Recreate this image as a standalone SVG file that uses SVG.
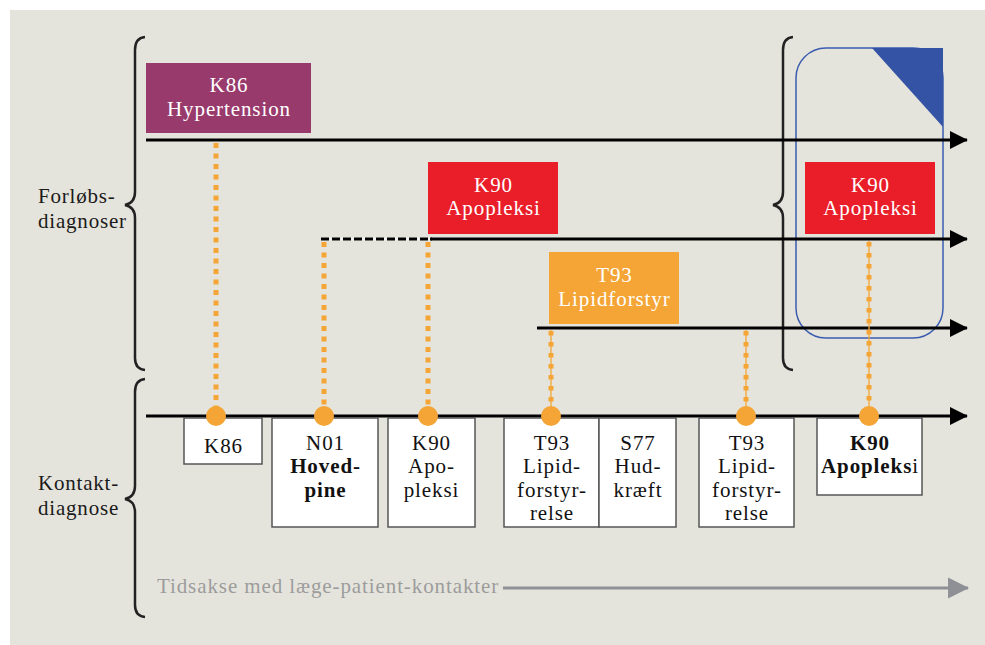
<svg xmlns="http://www.w3.org/2000/svg" width="985" height="645" viewBox="0 0 985 645">
<defs>
<style>
.lbl{font-family:"Liberation Serif","DejaVu Serif",serif;font-size:21px;letter-spacing:0.8px;fill:#1a1a1a}
.wt{font-family:"Liberation Serif","DejaVu Serif",serif;font-size:21px;letter-spacing:0.9px;fill:#ffffff;text-anchor:middle}
.bt{font-family:"Liberation Serif","DejaVu Serif",serif;font-size:21px;letter-spacing:0.9px;fill:#111;text-anchor:middle}
.b{font-weight:bold}
.brace{fill:none;stroke:#222;stroke-width:2.5}
.axis{stroke:#000;stroke-width:3;fill:none}
.dot{stroke:#F4A535;stroke-width:5;stroke-dasharray:5 5.5;fill:none}
.thin{stroke:#F4A535;stroke-width:1.3;fill:none}
.sq{stroke:#F4A535;stroke-width:5;stroke-dasharray:4.5 6.5;fill:none}
.box{fill:#fff;stroke:#555;stroke-width:1.5}
.circ{fill:#F4A535}
</style>
<marker id="ah" viewBox="0 0 10 10" refX="9.5" refY="5" markerWidth="6" markerHeight="6" orient="auto" markerUnits="strokeWidth">
<path d="M0,0 L10,5 L0,10 Z" fill="#000"/>
</marker>
<marker id="ahg" viewBox="0 0 10 10" refX="9.5" refY="5" markerWidth="7" markerHeight="8" orient="auto" markerUnits="strokeWidth">
<path d="M0,0 L10,5 L0,10 Z" fill="#8E9096"/>
</marker>
</defs>
<rect x="10" y="10" width="975" height="635" fill="#E5E4DC"/>

<g id="braces">
<path class="brace" d="M145,37 Q135,38 135,50 L135,192 Q135,203 125,205 Q135,207 135,218 L135,358 Q135,369 145,370"/>
<path class="brace" d="M145,379 Q135,380 135,392 L135,486 Q135,497 125,499 Q135,501 135,512 L135,605 Q135,616 145,617"/>
<path class="brace" d="M793,37 Q783,38 783,50 L783,192 Q783,203 773,205 Q783,207 783,218 L783,358 Q783,369 793,370"/>
</g>

<g id="side-labels">
<text class="lbl" x="38" y="203">Forløbs-</text>
<text class="lbl" x="38" y="228">diagnoser</text>
<text class="lbl" x="38" y="490">Kontakt-</text>
<text class="lbl" x="38" y="515">diagnose</text>
</g>

<g id="highlight">
<rect x="796" y="48" width="147" height="290" rx="30" ry="30" fill="none" stroke="#3A5CB0" stroke-width="1.5"/>
<path d="M872,48 L943,48 L943,127 Z" fill="#3553A5"/>
</g>

<g id="connectors">
<line class="axis" x1="146" y1="140" x2="967" y2="140" marker-end="url(#ah)"/>
<line x1="321" y1="239" x2="432" y2="239" stroke="#f4f4f0" stroke-width="3"/>
<line x1="321" y1="239" x2="432" y2="239" stroke="#000" stroke-width="3" stroke-dasharray="8 3"/>
<line class="axis" x1="430" y1="239" x2="967" y2="239" marker-end="url(#ah)"/>
<line class="axis" x1="537" y1="328" x2="967" y2="328" marker-end="url(#ah)"/>
<line class="axis" x1="146" y1="416" x2="967" y2="416" marker-end="url(#ah)"/>
<line x1="503" y1="588" x2="968" y2="588" stroke="#8E9096" stroke-width="3" marker-end="url(#ahg)"/>
<line class="dot" x1="216" y1="143" x2="216" y2="410"/>
<line class="dot" x1="324" y1="242" x2="324" y2="410"/>
<line class="dot" x1="428" y1="242" x2="428" y2="410"/>
<line class="thin" x1="551" y1="330" x2="551" y2="410"/>
<line class="sq" x1="551" y1="331" x2="551" y2="410"/>
<line class="thin" x1="746" y1="330" x2="746" y2="410"/>
<line class="sq" x1="746" y1="331" x2="746" y2="410"/>
<line class="thin" x1="869" y1="241" x2="869" y2="410"/>
<line class="sq" x1="869" y1="242" x2="869" y2="410"/>
</g>

<g id="k86-hypertension">
<rect x="146" y="63" width="165" height="70" fill="#983A6C"/>
<text class="wt" x="229" y="92">K86</text>
<text class="wt" x="229" y="116">Hypertension</text>
</g>
<g id="k90-apopleksi-1">
<rect x="428" y="162" width="130" height="72" fill="#E91E29"/>
<text class="wt" x="493.5" y="192">K90</text>
<text class="wt" x="493.5" y="215">Apopleksi</text>
</g>
<g id="t93-lipidforstyr">
<rect x="549" y="252" width="130" height="72" fill="#F4A535"/>
<text class="wt" x="614.5" y="282">T93</text>
<text class="wt" x="614.5" y="306">Lipidforstyr</text>
</g>
<g id="k90-apopleksi-2">
<rect x="805" y="162" width="130" height="72" fill="#E91E29"/>
<text class="wt" x="870.5" y="192">K90</text>
<text class="wt" x="870.5" y="215">Apopleksi</text>
</g>

<g id="c-k86">
<rect class="box" x="184" y="418" width="78" height="46"/>
<text class="bt" x="223.5" y="453">K86</text>
</g>
<g id="c-n01">
<rect class="box" x="272" y="418" width="106" height="109"/>
<text class="bt" x="325.5" y="450">N01</text>
<text class="bt b" x="325.5" y="473">Hoved-</text>
<text class="bt b" x="325.5" y="497">pine</text>
</g>
<g id="c-k90">
<rect class="box" x="388" y="418" width="87" height="109"/>
<text class="bt" x="431.5" y="450">K90</text>
<text class="bt" x="431.5" y="473">Apo-</text>
<text class="bt" x="431.5" y="497">pleksi</text>
</g>
<g id="c-t93-1">
<rect class="box" x="504" y="418" width="95" height="109"/>
<text class="bt" x="552" y="450">T93</text>
<text class="bt" x="552" y="473">Lipid-</text>
<text class="bt" x="552" y="497">forstyr-</text>
<text class="bt" x="552" y="520">relse</text>
</g>
<g id="c-s77">
<rect class="box" x="599" y="418" width="77" height="109"/>
<text class="bt" x="638" y="450">S77</text>
<text class="bt" x="638" y="473">Hud-</text>
<text class="bt" x="638" y="497">kræft</text>
</g>
<g id="c-t93-2">
<rect class="box" x="699" y="418" width="95" height="109"/>
<text class="bt" x="747" y="450">T93</text>
<text class="bt" x="747" y="473">Lipid-</text>
<text class="bt" x="747" y="497">forstyr-</text>
<text class="bt" x="747" y="520">relse</text>
</g>
<g id="c-k90-bold">
<rect class="box" x="817" y="418" width="105" height="77"/>
<text class="bt b" x="870" y="450">K90</text>
<text class="bt" x="870" y="473"><tspan class="b">Apopleks</tspan>i</text>
</g>

<g id="contact-dots">
<circle class="circ" cx="216" cy="416" r="10"/>
<circle class="circ" cx="324" cy="416" r="10"/>
<circle class="circ" cx="428" cy="416" r="10"/>
<circle class="circ" cx="551" cy="416" r="10"/>
<circle class="circ" cx="746" cy="416" r="10"/>
<circle class="circ" cx="869" cy="416" r="10"/>
</g>

<g id="time-axis-label">
<text x="157" y="593" font-family="'Liberation Serif','DejaVu Serif',serif" font-size="21" letter-spacing="0.9" fill="#9C9C9C">Tidsakse med læge-patient-kontakter</text>
</g>
</svg>
